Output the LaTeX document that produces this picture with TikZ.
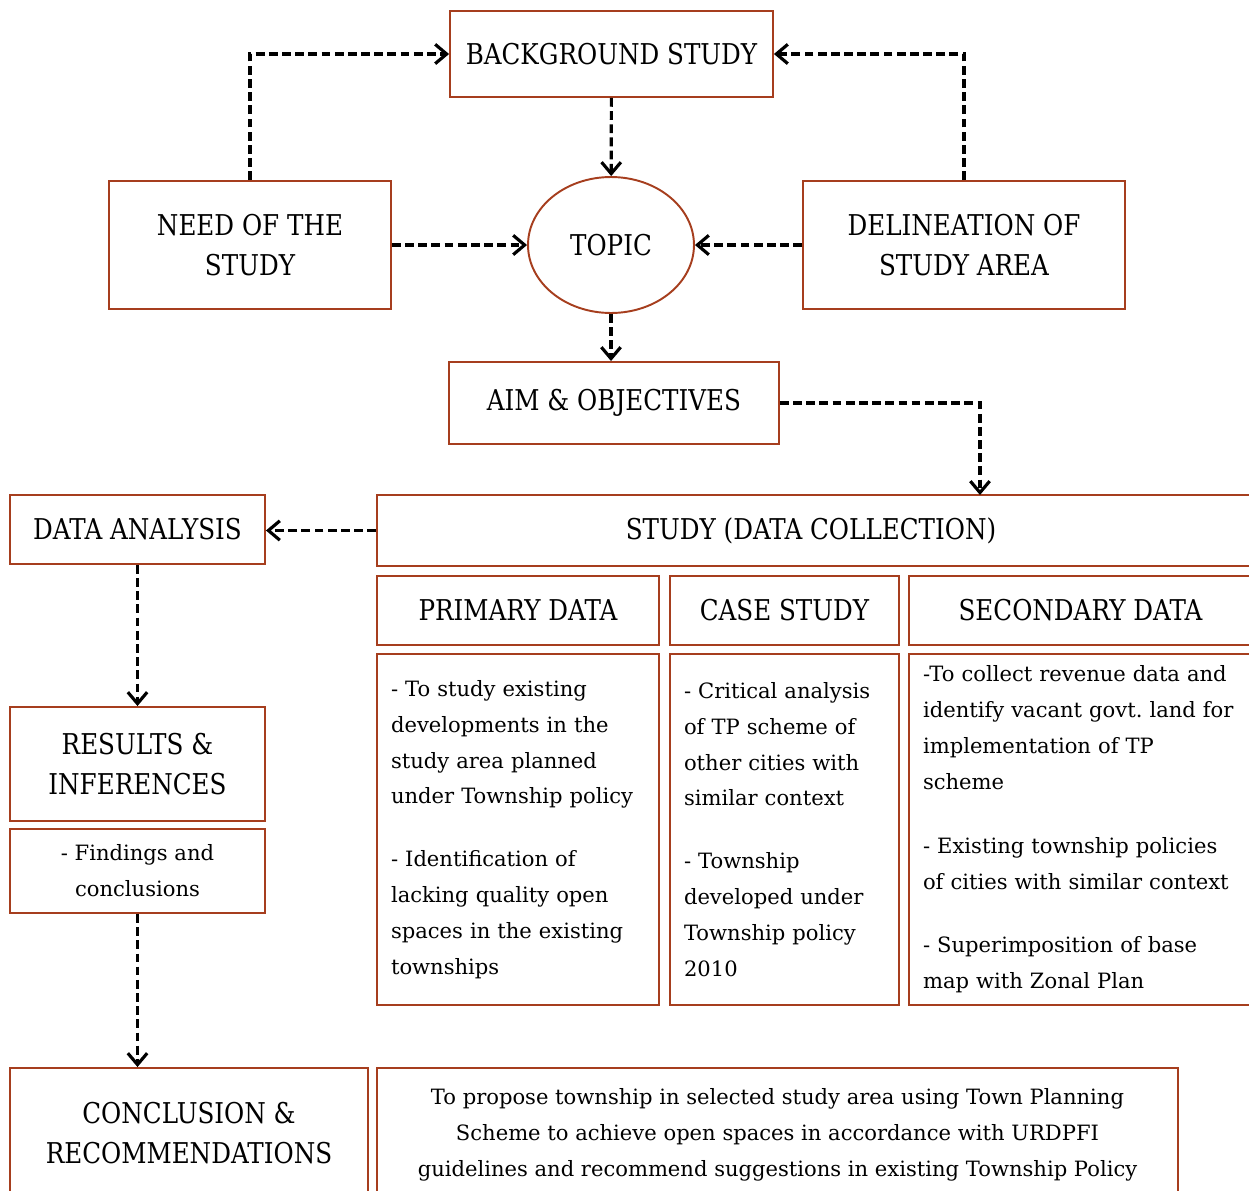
\documentclass[tikz,border=0pt]{standalone}
\usepackage{fontspec}
\setmainfont{DejaVu Serif}
\newfontfamily\headfamily{DejaVu Serif}[FakeStretch=0.86]
\usetikzlibrary{shapes.geometric, arrows.meta}
\newcommand{\boxfont}{\headfamily\fontsize{16.3}{23}\selectfont}
\newcommand{\notefont}{\fontsize{12}{20.4}\selectfont}
\frenchspacing

\begin{document}
\begin{tikzpicture}[x=0.02cm, y=-0.02cm,
  box/.style={draw=rust, line width=1.1pt, align=center, inner sep=0pt, font=\boxfont},
  notebox/.style={draw=rust, line width=1.1pt, align=left, inner xsep=0.28cm, inner ysep=0pt, font=\notefont},
  flow/.style={line width=1.8pt, dash pattern=on 5pt off 2.5pt, -{Straight Barb[length=6.5pt, width=11pt]}}]

  % Define custom colors
  \definecolor{rust}{RGB}{166, 62, 30}
  % Frame
  \useasboundingbox (0,0) rectangle (1249,1191);

  % Top part
  \node[box, minimum width=6.46cm, minimum height=1.72cm] (bg) at (611.5,54) {BACKGROUND STUDY};
  \node[box, minimum width=5.64cm, minimum height=2.56cm] (need) at (250,245) {NEED OF THE\\STUDY};
  \node[box, ellipse, minimum width=3.32cm, minimum height=2.72cm] (topic) at (611,245) {TOPIC};
  \node[box, minimum width=6.44cm, minimum height=2.56cm] (delin) at (964,245) {DELINEATION OF\\STUDY AREA};
  \node[box, minimum width=6.6cm, minimum height=1.64cm] (aim) at (614,403) {AIM \& OBJECTIVES};

  % Data collection
  \node[box, minimum width=5.1cm, minimum height=1.38cm] (ana) at (137.5,529.5) {DATA ANALYSIS};
  \node[box, minimum width=17.7cm, minimum height=1.42cm] (study) at (819.5,530.5) {STUDY (DATA COLLECTION)\hspace*{0.34cm}};
  \coordinate (studyin) at (980,495);
  \node[box, minimum width=5.64cm, minimum height=1.38cm] (prim) at (518,610.5) {PRIMARY DATA};
  \node[box, minimum width=4.58cm, minimum height=1.38cm] (case) at (784.5,610.5) {CASE STUDY};
  \node[box, minimum width=7.06cm, minimum height=1.38cm] (sec) at (1085.5,610.5) {SECONDARY DATA\hspace*{0.2cm}};

  \node[notebox, text width=5.08cm, minimum height=7.02cm] (primtxt) at (518,829.5)
    {- To study existing\\developments in the\\study area planned\\under Township policy\\[0.54cm]
     - Identification of\\lacking quality open\\spaces in the existing\\townships};
  \node[notebox, text width=4.02cm, minimum height=7.02cm] (casetxt) at (784.5,829.5)
    {- Critical analysis\\of TP scheme of\\other cities with\\similar context\\[0.54cm]
     - Township\\developed under\\Township policy\\2010};
  \node[notebox, text width=6.5cm, minimum height=7.02cm] (sectxt) at (1085.5,829.5)
    {-To collect revenue data and\\identify vacant govt. land for\\implementation of TP\\scheme\\[0.56cm]
     - Existing township policies\\of cities with similar context\\[0.56cm]
     - Superimposition of base\\map with Zonal Plan};

  % Results
  \node[box, minimum width=5.1cm, minimum height=2.28cm] (res) at (137.5,764) {RESULTS \&\\INFERENCES};
  \node[box, font=\notefont, minimum width=5.1cm, minimum height=1.68cm] (find) at (137.5,871) {- Findings and\\conclusions};
  \node[box, minimum width=7.16cm, minimum height=2.6cm] (conc) at (189,1133) {CONCLUSION \&\\RECOMMENDATIONS};
  \node[box, font=\notefont, minimum width=16.02cm, minimum height=2.68cm] (prop) at (777.5,1135)
    {To propose township in selected study area using Town Planning\\
     Scheme to achieve open spaces in accordance with URDPFI\\
     guidelines and recommend suggestions in existing Township Policy};

  % Arrows
  \draw[flow] (need.north) |- (bg.west);
  \draw[flow] (delin.north) |- (bg.east);
  \draw[flow] (bg) -- (topic);
  \draw[flow] (need) -- (topic);
  \draw[flow] (delin) -- (topic);
  \draw[flow] (topic.south) -- (topic.south |- aim.north);
  \draw[flow] (aim.east) -| (studyin);
  \draw[flow] (study.west) -- (study.west -| ana.east);
  \draw[flow] (ana) -- (res);
  \draw[flow] (find.south) -- (find.south |- conc.north);

\end{tikzpicture}
\end{document}
